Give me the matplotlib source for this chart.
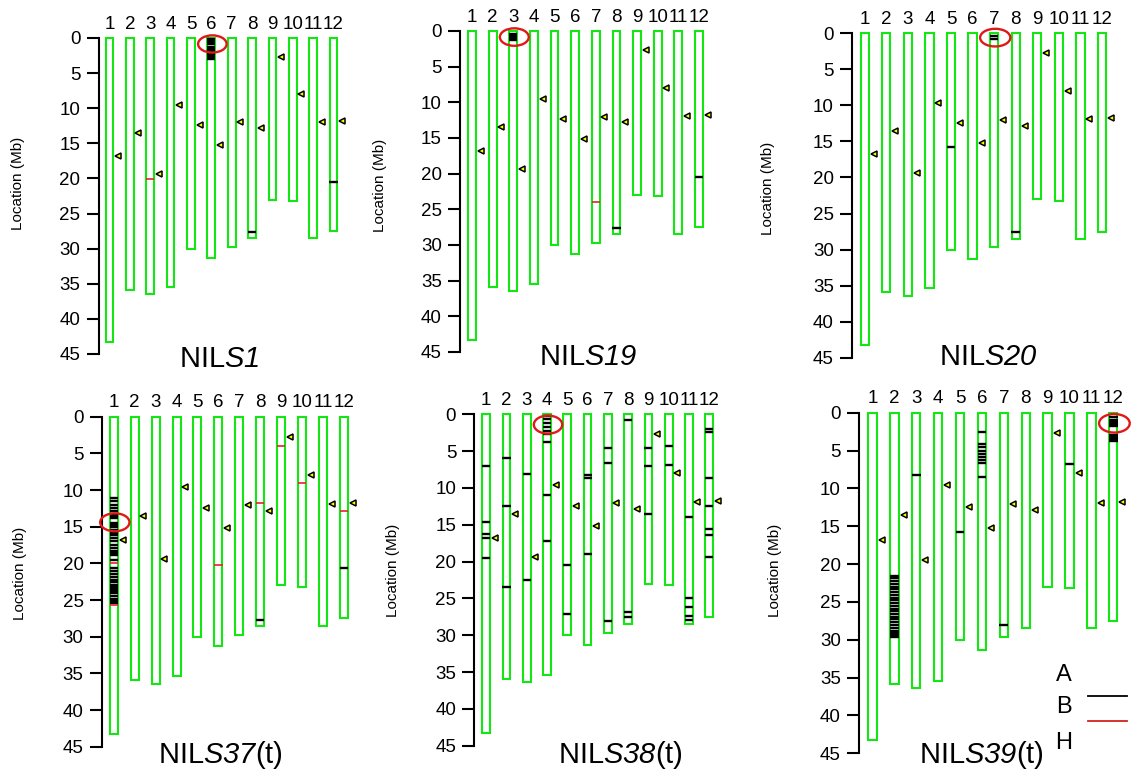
import matplotlib
matplotlib.use("Agg")
import matplotlib.pyplot as plt
from matplotlib.patches import Rectangle, Ellipse

plt.rcParams['font.family'] = ['Liberation Sans', 'DejaVu Sans']
plt.rcParams['mathtext.fontset'] = 'custom'
plt.rcParams['mathtext.rm'] = 'Liberation Sans:italic'
plt.rcParams['mathtext.it'] = 'Liberation Sans:italic'

# ---------------- data ----------------
chromosomes = list(range(1, 13))
chrom_lengths = [43.3, 35.9, 36.4, 35.4, 30.0, 31.3, 29.7, 28.5, 23.0, 23.2, 28.5, 27.5]
centromeres = [16.8, 13.5, 19.4, 9.6, 12.4, 15.2, 12.0, 12.8, 2.7, 8.0, 11.9, 11.8]
y_ticks = [0, 5, 10, 15, 20, 25, 30, 35, 40, 45]

panel_titles = [r'NIL$S1$', r'NIL$S19$', r'NIL$S20$',
                r'NIL$S37$(t)', r'NIL$S38$(t)', r'NIL$S39$(t)']

# genotype B (black) and H (red) marker positions, Mb, per chromosome
s1_B = {6: [0.1, 0.35, 0.6, 0.85, 1.3, 1.55, 1.8, 2.05, 2.3, 2.55, 2.8, 3.05],
        8: [27.6], 12: [20.5]}
s1_H = {3: [20.1]}
s19_B = {3: [0.4, 0.7, 1.0, 1.3], 8: [27.6], 12: [20.5]}
s19_H = {7: [24.0]}
s20_B = {5: [15.8], 7: [0.4, 0.85], 8: [27.6]}
s20_H = {}
s37_B = {1: [11.1, 11.5, 12.0, 12.5, 12.9, 13.2, 13.5, 13.8, 14.5, 14.8, 15.1, 15.4,
             15.8, 16.1, 16.6, 17.0, 17.5, 17.9, 18.3, 18.6, 18.9, 19.5, 20.6, 21.0,
             21.5, 21.8, 22.3, 22.6, 22.9, 23.2, 23.5, 23.8, 24.1, 24.4, 24.8, 25.1, 25.4],
         8: [27.7], 12: [20.6]}
s37_H = {1: [20.0, 25.7], 6: [20.2], 8: [11.7], 9: [4.0], 10: [9.1], 12: [12.9]}
s38_B = {1: [7.0, 14.6, 16.3, 16.8, 19.5],
         2: [6.0, 12.4, 23.5],
         3: [8.1, 22.5],
         4: [0.2, 0.7, 1.2, 1.7, 2.2, 2.7, 3.8, 11.0, 17.2],
         5: [20.5, 27.1],
         6: [8.2, 8.6, 19.0],
         7: [4.6, 6.6, 28.0],
         8: [0.8, 26.8, 27.5],
         9: [4.6, 7.0, 13.5],
         10: [4.3, 6.9],
         11: [14.0, 24.9, 26.1, 27.4, 27.9],
         12: [2.0, 2.35, 8.6, 12.4, 15.6, 16.4, 19.4]}
s38_H = {}
s39_B = {2: [21.6, 21.9, 22.2, 22.6, 23.0, 23.3, 23.7, 24.1, 24.5, 24.8, 25.1, 25.5,
             25.9, 26.2, 26.6, 27.0, 27.3, 27.7, 28.1, 28.5, 28.8, 29.1, 29.4, 29.7],
         3: [8.2], 5: [15.7],
         6: [2.6, 4.1, 4.5, 5.1, 5.5, 5.9, 6.3, 6.6, 8.5],
         7: [28.1], 10: [6.8],
         12: [0.6, 0.9, 1.2, 1.5, 1.8, 2.9, 3.2, 3.5, 3.8]}
s39_H = {}

# highlighted target segment (chromosome, Mb)
highlight_chr = [6, 3, 7, 1, 4, 12]
highlight_pos = [0.85, 0.85, 0.6, 14.4, 1.4, 1.4]

legend_labels = ['A', 'B', 'H']

B_sets = [s1_B, s19_B, s20_B, s37_B, s38_B, s39_B]
H_sets = [s1_H, s19_H, s20_H, s37_H, s38_H, s39_H]

# ---------------- layout (pixels) ----------------
W, H = 1136, 771
fig = plt.figure(figsize=(W / 100, H / 100), dpi=100)

# axis-line x, y of 0 Mb, y of 45 Mb, x of chr1, x of chr12
panels_px = [
    (98.5, 38.0, 354.0, 109.5, 333.5),
    (460.0, 31.0, 352.0, 472.0, 699.0),
    (852.0, 33.3, 357.7, 864.7, 1102.0),
    (101.7, 416.7, 746.7, 113.8, 343.8),
    (474.3, 414.3, 745.7, 486.2, 709.2),
    (859.0, 412.7, 753.3, 872.5, 1113.3),
]
title_px = [(219, 359), (588, 357), (988, 357), (220, 755), (620, 755), (981, 755)]
ylabel_px = [(18, 183), (380, 185), (768, 188), (20, 573), (393, 570), (775, 570)]

GREEN = '#14e614'
bar_w = 0.38

for i, (ax_x, y0, y45, c1, c12) in enumerate(panels_px):
    sp = (c12 - c1) / 11.0
    xl = 1 - (c1 - ax_x) / sp
    xr = 12.9
    right_px = c1 + (xr - 1) * sp
    ax = fig.add_axes([ax_x / W, 1 - y45 / H, (right_px - ax_x) / W, (y45 - y0) / H])
    ax.set_xlim(xl, xr)
    ax.set_ylim(45, 0)
    for s in ['top', 'right', 'bottom']:
        ax.spines[s].set_visible(False)
    ax.spines['left'].set_bounds(0, 45)
    ax.spines['left'].set_linewidth(1.5)
    ax.set_xticks([])
    ax.set_yticks(y_ticks)
    ax.tick_params(axis='y', direction='out', length=9, width=1.5, labelsize=13.5, pad=4)
    ax.patch.set_visible(False)

    for c, L, cen in zip(chromosomes, chrom_lengths, centromeres):
        ax.add_patch(Rectangle((c - bar_w / 2, 0), bar_w, L, fill=False,
                               edgecolor=GREEN, lw=1.5, clip_on=False, zorder=2))
        ax.plot([c + 0.42], [cen], marker='<', markersize=4.8, markerfacecolor='#ffff00',
                markeredgecolor='black', markeredgewidth=1.1, linestyle='none',
                clip_on=False, zorder=4)
        ax.text(c, -1.9, str(c), ha='center', va='center', fontsize=13.5)

    for c, posl in B_sets[i].items():
        ax.hlines(posl, c - 0.2, c + 0.2, colors='black', lw=1.7, zorder=3, clip_on=False)
    for c, posl in H_sets[i].items():
        ax.hlines(posl, c - 0.2, c + 0.2, colors='#e8202a', lw=1.2, zorder=3, clip_on=False)

    ax.add_patch(Ellipse((highlight_chr[i] + 0.05, highlight_pos[i]), 1.4, 2.45,
                         fill=False, edgecolor='#e01818', lw=1.7, clip_on=False, zorder=5))

    tx, ty = title_px[i]
    fig.text(tx / W, 1 - ty / H, panel_titles[i], ha='center', va='center', fontsize=21)
    lx, ly = ylabel_px[i]
    fig.text(lx / W, 1 - ly / H, 'Location (Mb)', rotation=90, ha='center', va='center',
             fontsize=11)

# legend (last panel)
fig.text(1064 / W, 1 - 675 / H, legend_labels[0], ha='center', va='center', fontsize=17)
fig.text(1064 / W, 1 - 707 / H, legend_labels[1], ha='center', va='center', fontsize=17)
fig.text(1064 / W, 1 - 743 / H, legend_labels[2], ha='center', va='center', fontsize=17)
fig.add_artist(plt.Line2D([1088 / W, 1127 / W], [1 - 696 / H, 1 - 696 / H],
                          color='black', lw=1.3, transform=fig.transFigure))
fig.add_artist(plt.Line2D([1088 / W, 1127 / W], [1 - 721 / H, 1 - 721 / H],
                          color='#d42020', lw=1.3, transform=fig.transFigure))

fig.savefig('out.png', dpi=100, facecolor='white')
